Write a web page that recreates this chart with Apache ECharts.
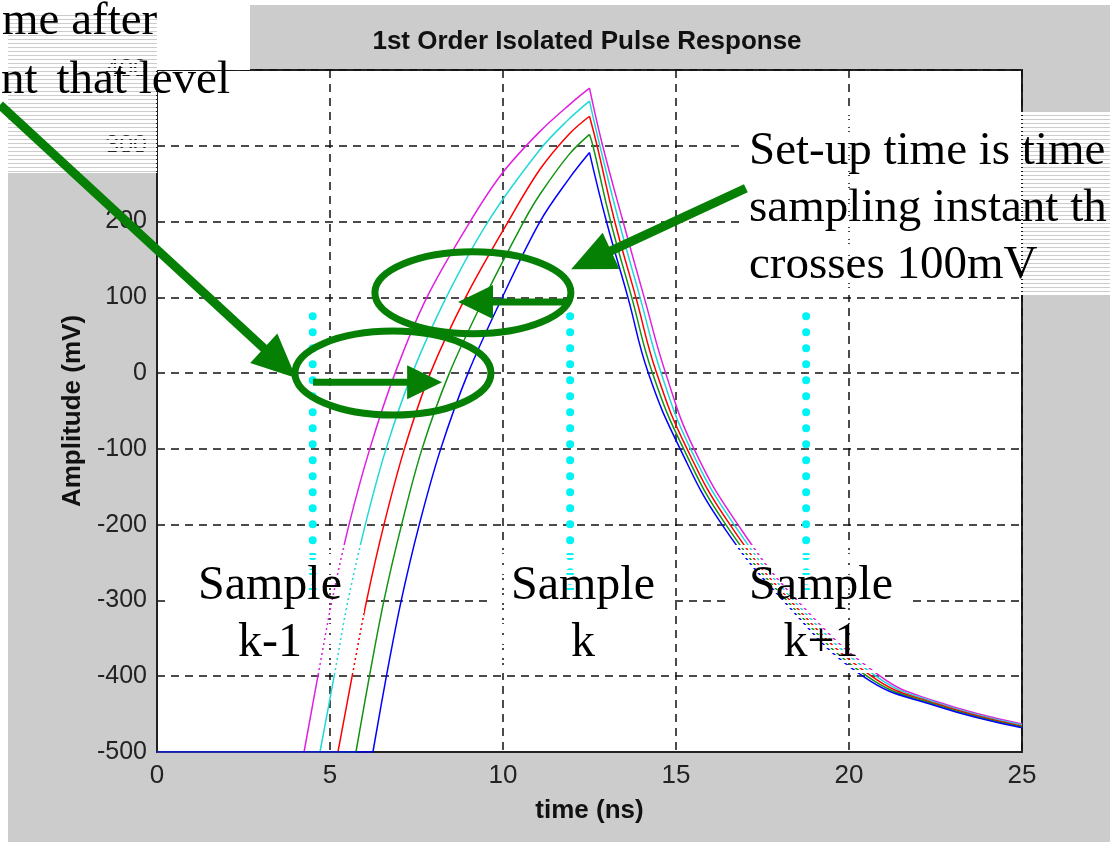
<!DOCTYPE html>
<html>
<head>
<meta charset="utf-8">
<script src="https://cdn.jsdelivr.net/npm/echarts@6/dist/echarts.min.js"></script>
<style>
  html, body { margin: 0; padding: 0; background: #ffffff; }
  #chart { width: 1110px; height: 842px; }
</style>
</head>
<body>
<div id="chart"></div>
<script>
// Axis ranges and ticks
const timeMin = 0, timeMax = 25, timeStep = 5;
const ampMin = -500, ampMax = 400, ampStep = 100;

// Pulse responses [time (ns), amplitude (mV)], one per trace
const seriesNames = ['m', 'c', 'r', 'g', 'b'];
const curveM = [[0,-500],[4.25,-500],[4.65,-400],[5.06,-300],[5.55,-200],[6.15,-100],[6.88,0],[7.80,100],[9.05,200],[10.0,265],[11.07,319],[11.94,355],[12.5,376],
  [12.88,300],[13.47,200],[14.08,100],[14.7,0],[15.52,-100],[16.79,-200],[18.5,-300],[20.9,-400],[22.5,-433],[25,-463]];
const curveC = [[0,-500],[4.71,-500],[5.12,-400],[5.52,-300],[6.02,-200],[6.62,-100],[7.38,0],[8.36,100],[9.57,200],[11.07,295],[11.9,335],[12.5,359],
  [12.8,300],[13.35,200],[13.96,100],[14.57,0],[15.42,-100],[16.68,-200],[18.4,-300],[20.78,-400],[22.5,-434.5],[25,-464.5]];
const curveR = [[0,-500],[5.23,-500],[5.64,-400],[6.06,-300],[6.56,-200],[7.15,-100],[7.90,0],[8.92,100],[10.15,200],[11.07,269],[11.9,315],[12.5,339],
  [12.72,300],[13.23,200],[13.84,100],[14.44,0],[15.32,-100],[16.56,-200],[18.3,-300],[20.65,-400],[22.5,-436],[25,-466]];
const curveG = [[0,-500],[5.75,-500],[6.14,-400],[6.56,-300],[7.07,-200],[7.66,-100],[8.45,0],[9.47,100],[10.6,200],[11.07,236],[11.9,288],[12.5,315],
  [12.6,300],[13.11,200],[13.72,100],[14.32,0],[15.22,-100],[16.44,-200],[18.2,-300],[20.52,-400],[22.5,-437.5],[25,-467]];
const curveB = [[0,-500],[6.24,-500],[6.63,-400],[7.06,-300],[7.58,-200],[8.2,-100],[8.99,0],[9.98,100],[11.07,200],[11.9,256],[12.5,291],
  [12.99,200],[13.61,100],[14.2,0],[15.12,-100],[16.33,-200],[18.1,-300],[20.4,-400],[22.5,-439],[25,-468]];
const curves = [curveM, curveC, curveR, curveG, curveB];
const curveColors = ['#e020e0', '#20d8d8', '#ff0000', '#129412', '#0000ff'];

// Sampling instants (ns) and the span of each sampling marker (mV)
const sampleTimes = [4.5, 11.94, 18.76];
const sampleTop = 75, sampleBottom = -290;

// Annotation text
const sampleLabels = ['Sample\nk-1', 'Sample\nk', 'Sample\nk+1'];
const holdLines = ['me after', 'nt', 'that level'];
const setupLines = ['Set-up time is time', 'sampling instant th', 'crosses 100mV'];

const chart = echarts.init(document.getElementById('chart'), null, { renderer: 'canvas' });

const sansFont = 'Liberation Sans, Arial, sans-serif';
const serifFont = 'Liberation Serif, Times New Roman, serif';
const annoGreen = '#058005';

// Each trace is drawn as a flat baseline, a smooth rising edge and a smooth falling edge
function splitTrace(d) {
  let peak = 0;
  d.forEach((p, i) => { if (p[1] > d[peak][1]) peak = i; });
  let start = 0;
  for (let i = 0; i < peak; i++) if (d[i][1] === ampMin) start = i;
  return [
    { data: d.slice(0, start + 1), smooth: false },
    { data: d.slice(start, peak + 1), smooth: 0.35 },
    { data: d.slice(peak), smooth: 0.45 }
  ];
}

const lineSeries = [];
curves.forEach((d, i) => {
  splitTrace(d).forEach(part => {
    lineSeries.push({
      type: 'line', name: seriesNames[i], data: part.data, smooth: part.smooth,
      symbol: 'none', showSymbol: false, animation: false, z: 3,
      lineStyle: { color: curveColors[i], width: 1.5 }
    });
  });
});
const sampleSeries = sampleTimes.map(t => ({
  type: 'line', data: [[t, sampleTop], [t, sampleBottom]],
  symbol: 'none', animation: false, z: 4, silent: true,
  lineStyle: { color: '#00f4f4', width: 8, type: [0, 16], cap: 'round' }
}));

chart.setOption({
  backgroundColor: '#cccccc',
  animation: false,
  title: {
    text: '1st Order Isolated Pulse Response',
    left: 582, top: 24, textAlign: 'center',
    textStyle: { fontFamily: sansFont, fontWeight: 'bold', fontSize: 26, color: '#111' }
  },
  grid: {
    left: 157, right: 88, top: 70, bottom: 90,
    show: true, backgroundColor: '#ffffff', borderColor: '#222', borderWidth: 2
  },
  xAxis: {
    type: 'value', min: timeMin, max: timeMax, interval: timeStep,
    name: 'time (ns)', nameLocation: 'middle', nameGap: 46,
    nameTextStyle: { fontFamily: sansFont, fontWeight: 'bold', fontSize: 26, color: '#111' },
    axisLine: { show: true, onZero: false, lineStyle: { color: '#222', width: 2 } },
    axisTick: { show: false },
    axisLabel: { fontFamily: sansFont, fontSize: 26, color: '#222', margin: 11 },
    splitLine: { show: true, lineStyle: { color: '#111', width: 1.5, type: [8, 6] } }
  },
  yAxis: {
    type: 'value', min: ampMin, max: ampMax, interval: ampStep,
    name: 'Amplitude (mV)', nameLocation: 'middle', nameGap: 70, nameRotate: 90,
    nameTextStyle: { fontFamily: sansFont, fontWeight: 'bold', fontSize: 26, color: '#111' },
    axisLine: { show: true, onZero: false, lineStyle: { color: '#222', width: 2 } },
    axisTick: { show: false },
    axisLabel: { fontFamily: sansFont, fontSize: 25, color: '#222', margin: 10 },
    splitLine: { show: true, lineStyle: { color: '#111', width: 1.5, type: [8, 6] } }
  },
  series: lineSeries.concat(sampleSeries)
});

// Horizontal-stripe fills used by the overlaid text boxes
function makeStripe(period, gap) {
  const c = document.createElement('canvas');
  c.width = 4; c.height = period;
  const g = c.getContext('2d');
  g.fillStyle = '#ffffff';
  g.fillRect(0, 0, 4, period - gap);
  return { image: c, repeat: 'repeat' };
}
const fineStripe = makeStripe(4, 1);
const openStripe = makeStripe(5, 2);

const px = (t, v) => chart.convertToPixel({ gridIndex: 0 }, [t, v]);

function box(x, y, w, h, fill) {
  return { type: 'rect', z: 60, silent: true, shape: { x, y, width: w, height: h }, style: { fill } };
}
function text(str, x, y, align, size) {
  return { type: 'text', z: 70, silent: true, x, y,
    style: { text: str, fill: '#000', font: size + 'px ' + serifFont, align, verticalAlign: 'top', lineHeight: 57 } };
}
function arrow(from, to, headLen, headHalf, width) {
  const a = px(from[0], from[1]), b = px(to[0], to[1]);
  const dx = b[0] - a[0], dy = b[1] - a[1], len = Math.hypot(dx, dy);
  const ux = dx / len, uy = dy / len;
  const base = [b[0] - ux * headLen, b[1] - uy * headLen];
  return [
    { type: 'line', z: 80, silent: true,
      shape: { x1: a[0], y1: a[1], x2: base[0] + ux * 2, y2: base[1] + uy * 2 },
      style: { stroke: annoGreen, lineWidth: width } },
    { type: 'polygon', z: 80, silent: true,
      shape: { points: [b, [base[0] - uy * headHalf, base[1] + ux * headHalf], [base[0] + uy * headHalf, base[1] - ux * headHalf]] },
      style: { fill: annoGreen } }
  ];
}
function ring(center, rx, ry) {
  const c = px(center[0], center[1]);
  return { type: 'ellipse', z: 80, silent: true,
    shape: { cx: c[0], cy: c[1], rx, ry },
    style: { fill: 'none', stroke: annoGreen, lineWidth: 7 } };
}

const graphics = [
  // page margin around the figure
  box(0, 0, 8, 842, '#ffffff'),
  box(0, 0, 1110, 5, '#ffffff'),
  // upper-left text box
  box(0, 0, 250, 13, '#ffffff'),
  box(157, 0, 93, 70, '#ffffff'),
  box(0, 13, 157, 160, fineStripe),
  // upper-right text box
  box(745, 112, 365, 184, fineStripe),
  // sample label boxes
  box(171, 545, 193, 128, openStripe),
  box(491, 545, 184, 128, openStripe),
  box(725, 545, 188, 128, openStripe),
  text(holdLines[0], 2, -6.5, 'left', 47),
  text(holdLines[1], 1, 52.5, 'left', 47),
  text(holdLines[2], 230, 52.5, 'right', 47),
  text(setupLines.join('\n'), 749, 123, 'left', 47),
  text(sampleLabels[0], 270, 557.5, 'center', 48),
  text(sampleLabels[1], 583, 557.5, 'center', 48),
  text(sampleLabels[2], 821, 557.5, 'center', 48),
  ring([9.13, 106], 98, 41),
  ring([6.82, 0], 98, 42)
]
  .concat(arrow([4.51, -12], [8.24, -12], 35, 17, 7))
  .concat(arrow([11.85, 94], [8.70, 94], 35, 17, 7))
  .concat(arrow([-4.54, 354], [4.02, -6.5], 44, 20, 9))
  .concat(arrow([17.02, 244], [11.97, 137], 44, 20, 9));

chart.setOption({ graphic: graphics });
</script>
</body>
</html>
